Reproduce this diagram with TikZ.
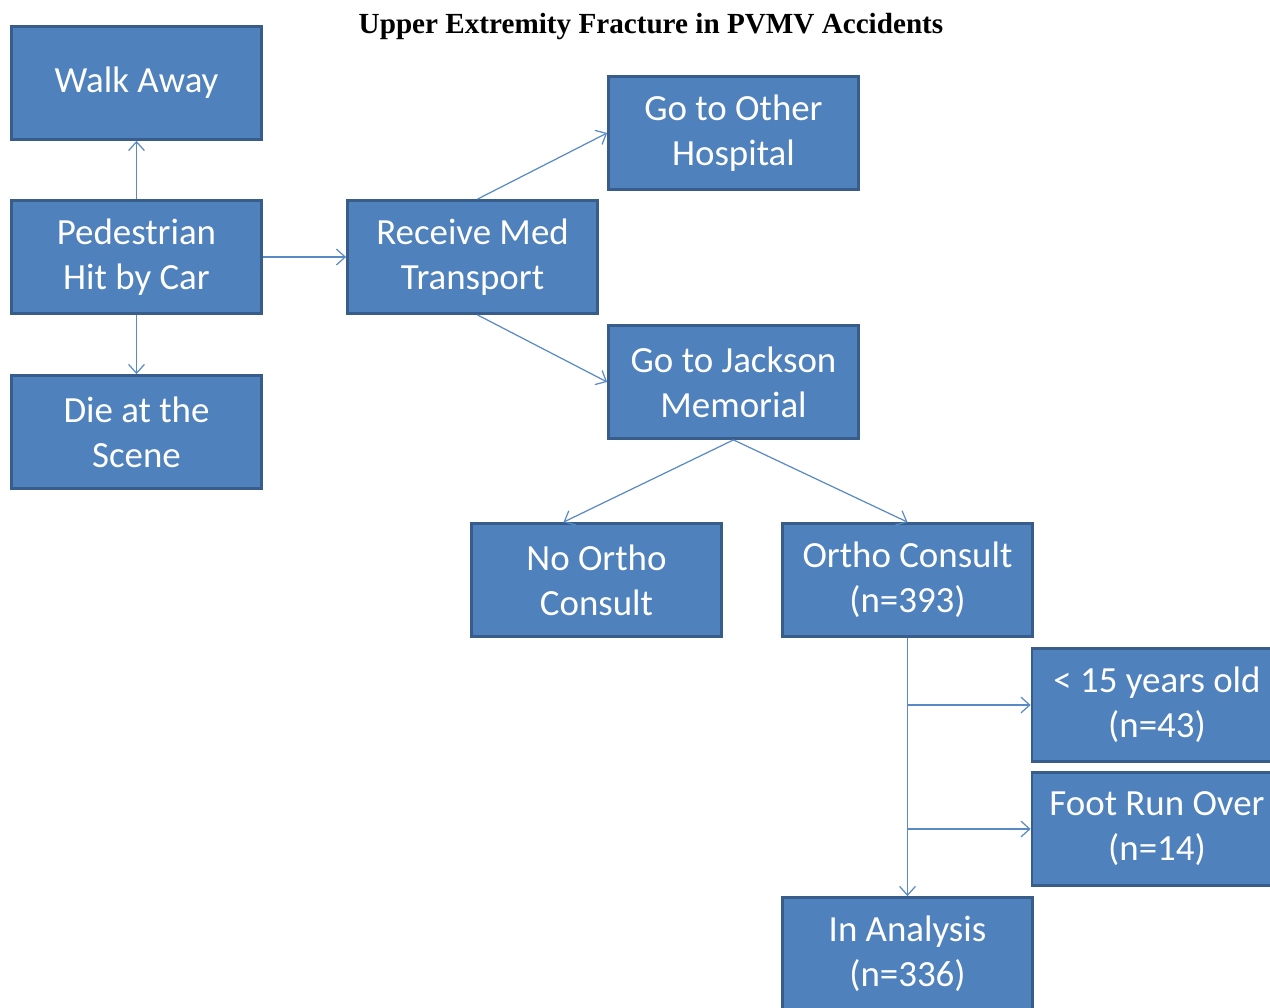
\documentclass[tikz,border=0pt]{standalone}
\usepackage{fontspec}
\setmainfont{Carlito}
\newfontfamily\titlefont{Liberation Serif}
\usetikzlibrary{arrows.meta}
\definecolor{boxfill}{HTML}{4F81BD}
\definecolor{boxline}{HTML}{385D8A}
\definecolor{linkline}{HTML}{5A8AC6}
\begin{document}
\begin{tikzpicture}[x=0.02cm,y=-0.02cm,>={Straight Barb[length=5pt,width=9pt]},
	box/.style={draw=boxline,line width=1.6pt,fill=boxfill,text=white,minimum width=5cm,minimum height=2.26cm,
		align=center,inner sep=0pt,font=\fontsize{21}{25.6}\selectfont},
	link/.style={->,draw=linkline,line width=0.7pt}]
	\useasboundingbox (0,0) rectangle (1270,1007);
	\clip (0,0) rectangle (1270,1007);
	\node[font=\titlefont\bfseries\fontsize{16.6}{19}\selectfont] (title) at (651,27) {Upper Extremity Fracture in PVMV Accidents};
	\node[box] (wa) at (136.5,83) {Walk Away};
	\node[box] (phc) at (136.5,257) {Pedestrian\\Hit by Car};
	\node[box] (das) at (136.5,432) {Die at the\\Scene};
	\node[box] (rmt) at (472.5,257) {Receive Med\\Transport};
	\node[box] (goh) at (733.5,133) {Go to Other\\Hospital};
	\node[box] (jmh) at (733.5,382) {Go to Jackson\\Memorial};
	\node[box] (noc) at (596.5,580) {No Ortho\\Consult};
	\node[box] (oc) at (907.5,580) {Ortho Consult\\(n=393)};
	\node[box] (yo) at (1157,705) {< 15 years old\\(n=43)};
	\node[box] (fro) at (1157,829) {Foot Run Over\\(n=14)};
	\node[box] (ina) at (907.5,954) {In Analysis\\(n=336)};
	% connectors
	\draw[link] (phc) -- (wa);
	\draw[link] (phc) -- (das);
	\draw[link] (phc) -- (rmt);
	\draw[link] ([xshift=0.1cm]rmt.north) -- (goh.west);
	\draw[link] ([xshift=0.1cm]rmt.south) -- (jmh.west);
	\draw[link] (jmh.south) -- ([xshift=-0.66cm]noc.north);
	\draw[link] (jmh.south) -- (oc.north);
	\draw[link] (oc) -- (ina);
	\coordinate (b1) at (oc.south |- yo.west);
	\coordinate (b2) at (oc.south |- fro.west);
	\draw[link] (b1) -- (yo.west);
	\draw[link] (b2) -- (fro.west);
\end{tikzpicture}
\end{document}
